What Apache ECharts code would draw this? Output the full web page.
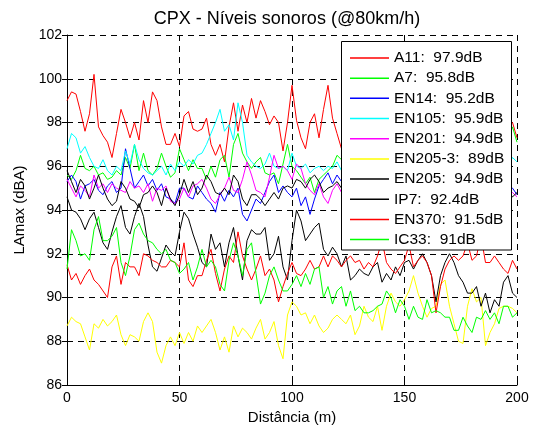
<!DOCTYPE html>
<html>
<head>
<meta charset="utf-8">
<script src="https://cdn.jsdelivr.net/npm/echarts@6/dist/echarts.min.js"></script>
<style>
  html, body { margin: 0; padding: 0; background: #fff; }
  #chart { width: 538px; height: 432px; }
</style>
</head>
<body>
<div id="chart"></div>
<script>
// Distance (m), sampled every 2 m
const distance = [
  0, 2, 4, 6, 8, 10, 12, 14, 16, 18,
  20, 22, 24, 26, 28, 30, 32, 34, 36, 38,
  40, 42, 44, 46, 48, 50, 52, 54, 56, 58,
  60, 62, 64, 66, 68, 70, 72, 74, 76, 78,
  80, 82, 84, 86, 88, 90, 92, 94, 96, 98,
  100, 102, 104, 106, 108, 110, 112, 114, 116, 118,
  120, 122, 124, 126, 128, 130, 132, 134, 136, 138,
  140, 142, 144, 146, 148, 150, 152, 154, 156, 158,
  160, 162, 164, 166, 168, 170, 172, 174, 176, 178,
  180, 182, 184, 186, 188, 190, 192, 194, 196, 198,
  200
];

const seriesNames = ['A11', 'A7', 'EN14', 'EN105', 'EN201', 'EN205-3', 'EN205', 'IP7', 'EN370', 'IC33'];
const legendLabels = ['A11:  97.9dB', 'A7:  95.8dB', 'EN14:  95.2dB', 'EN105:  95.9dB', 'EN201:  94.9dB',
  'EN205-3:  89dB', 'EN205:  94.9dB', 'IP7:  92.4dB', 'EN370:  91.5dB', 'IC33:  91dB'];
const seriesColors = ['#ff0000', '#00ff00', '#0000ff', '#00ffff', '#ff00ff', '#ffff00', '#000000', '#000000', '#ff0000', '#00ff00'];

const yTicks = [86, 88, 90, 92, 94, 96, 98, 100, 102];
const xTicks = [0, 50, 100, 150, 200];

const A11 = [
  99.0, 99.4, 99.3, 98.5, 97.6, 98.4, 100.2, 97.8, 97.4, 97.1,
  96.4, 97.5, 98.6, 98.0, 97.3, 98.0, 97.2, 99.0, 98.0, 99.4,
  99.0, 97.8, 97.0, 97.0, 97.5, 96.9, 98.3, 98.5, 97.7, 97.6,
  97.7, 98.2, 97.0, 96.5, 97.0, 96.2, 97.8, 98.9, 97.6, 98.8,
  98.0, 99.1, 98.2, 99.0, 98.5, 97.9, 98.3, 98.0, 96.7, 98.0,
  99.7, 98.1, 97.3, 96.8, 98.0, 98.4, 97.3, 98.6, 99.7, 98.2,
  97.5, 96.8, 97.6, 98.2, 98.9, 97.8, 97.3, 98.0, 98.6, 97.9,
  97.1, 97.7, 98.4, 99.0, 98.2, 97.5, 97.9, 98.5, 97.6, 97.0,
  97.8, 98.3, 98.9, 98.0, 97.4, 97.8, 98.6, 98.1, 97.2, 97.6,
  98.3, 98.8, 97.9, 97.3, 97.8, 98.4, 97.7, 97.2, 97.8, 98.0,
  97.3
];
const A7 = [
  95.6, 95.4, 95.8, 96.5, 95.9, 95.8, 96.0, 95.6, 95.7, 95.4,
  95.5, 95.8, 95.6, 96.4, 95.9, 97.0, 95.8, 96.6, 95.8, 95.6,
  95.9, 96.6, 96.0, 95.5, 95.7, 96.8, 96.3, 95.8, 96.3, 95.9,
  95.9, 95.4, 96.0, 95.5, 96.3, 96.5, 95.5, 97.0, 97.5, 96.6,
  96.2, 95.9, 96.2, 96.4, 95.7, 95.6, 95.7, 95.2, 96.1, 97.0,
  96.0, 95.8, 95.5, 95.2, 95.5, 94.8, 95.4, 95.6, 95.8, 96.0,
  96.5, 96.3, 95.9, 95.4, 95.7, 96.1, 95.5, 95.2, 95.8, 96.2,
  95.6, 95.3, 95.7, 96.0, 95.4, 95.1, 95.6, 95.9, 95.3, 95.5,
  96.0, 95.6, 95.2, 95.4, 95.8, 96.1, 95.5, 95.3, 95.7, 95.9,
  95.4, 95.6, 96.2, 95.8, 95.5, 96.0, 96.4, 96.8, 97.2, 97.8,
  97.1
];
const EN14 = [
  95.3, 95.6, 95.3, 94.5, 95.1, 95.2, 95.4, 94.9, 94.7, 95.1,
  95.3, 94.8, 95.0, 96.8, 95.9, 95.0, 95.3, 95.6, 95.1, 95.4,
  94.9, 95.2, 94.6, 94.5, 94.3, 95.0, 95.0, 94.6, 94.5, 95.1,
  94.8, 94.5, 94.3, 93.9, 94.8, 94.4, 94.9, 94.6, 95.0, 93.8,
  93.5, 94.0, 94.5, 94.3, 94.8, 95.3, 95.6, 94.8, 95.1, 94.8,
  94.6, 95.0, 94.2, 94.6, 93.8, 94.5, 95.1, 95.4, 95.7, 95.2,
  95.6, 95.3, 95.5, 95.9, 95.2, 95.7, 96.0, 95.4, 95.8, 95.3,
  95.6, 96.1, 95.5, 95.2, 95.8, 95.9, 95.4, 95.7, 96.0, 95.5,
  95.2, 95.6, 95.9, 95.4, 95.7, 95.3, 95.8, 96.0, 95.5, 95.1,
  95.4, 95.7, 95.2, 95.6, 95.0, 95.3, 95.5, 94.9, 95.2, 95.0,
  94.7
];
const EN105 = [
  96.8, 97.5, 97.3, 96.6, 96.9, 96.4, 96.0, 95.9, 96.3, 95.8,
  95.6, 96.0, 95.8, 96.7, 96.1, 97.0, 96.3, 95.9, 95.7, 95.6,
  95.8, 96.0, 95.6, 96.1, 95.8, 96.2, 96.0, 96.3, 96.1, 96.5,
  96.6, 97.0, 97.5, 98.0, 98.6, 97.6, 97.9, 97.2, 98.9, 98.0,
  96.5, 96.2, 96.0, 95.9, 96.1, 96.6, 96.0, 95.9, 96.0, 95.8,
  96.6, 96.0, 95.9, 96.1, 95.7, 95.9, 96.0, 95.8, 96.0, 95.9,
  96.2, 95.8, 95.4, 95.7, 95.2, 95.5, 95.9, 95.3, 95.6, 95.1,
  95.4, 95.8, 95.2, 95.5, 95.0, 95.6, 95.3, 95.7, 95.1, 95.4,
  95.8, 95.2, 95.5, 95.0, 95.4, 95.7, 95.3, 95.6, 95.2, 95.5,
  95.9, 95.4, 95.6, 95.2, 95.5, 95.8, 95.4, 95.7, 96.0, 96.4,
  96.2
];
const EN201 = [
  95.4, 95.0, 94.6, 95.1, 94.9, 94.6, 95.6, 95.0, 95.2, 94.8,
  95.2, 95.0, 94.9, 94.8, 95.3, 95.0, 95.1, 94.8, 95.2, 94.4,
  95.0, 94.9, 95.1, 94.4, 94.3, 94.5, 95.0, 94.6, 95.1, 95.2,
  95.4, 95.0, 94.5, 94.3, 94.7, 95.0, 95.5, 94.9, 94.8, 95.4,
  96.2, 95.6, 94.9, 94.8, 94.6, 95.5, 96.5, 95.9, 96.0, 95.8,
  95.4, 96.1, 95.9, 95.2, 94.9, 94.7, 95.2, 94.6, 94.3, 94.9,
  95.2, 94.8, 94.5, 94.9, 95.1, 94.6, 94.4, 94.8, 95.0, 94.7,
  94.5, 94.9, 95.2, 94.7, 94.4, 94.8, 95.1, 94.6, 94.3, 94.7,
  95.0, 94.6, 94.9, 95.2, 94.5, 94.8, 95.0, 94.4, 94.7, 94.9,
  94.6, 95.1, 94.8, 94.5, 94.9, 95.2, 94.7, 94.4, 94.8, 94.8,
  94.6
];
const EN205_3 = [
  88.7, 89.1, 88.9, 88.8, 88.2, 87.6, 88.8, 88.6, 89.0, 88.7,
  88.9, 89.2, 88.3, 87.8, 88.3, 88.2, 88.0, 88.9, 89.3, 88.9,
  87.5, 87.0, 87.8, 88.2, 87.8, 88.4, 87.9, 88.4, 88.0, 88.7,
  88.4, 88.7, 89.0, 88.4, 87.6, 88.2, 87.5, 88.7, 88.2, 88.6,
  88.4, 88.1, 88.6, 89.0, 88.1, 88.4, 88.9, 87.8, 87.2, 89.2,
  89.8, 89.6, 89.2, 89.3, 88.8, 89.2, 88.7, 88.4, 88.6, 89.0,
  89.2, 89.0, 88.8, 89.2, 88.3, 88.7, 89.6, 89.1, 88.9, 89.6,
  88.5, 89.6, 90.2, 89.8, 89.6, 89.9, 90.3, 91.0, 90.2, 89.6,
  89.1, 89.5, 89.6, 90.6, 90.8, 89.6, 88.8, 88.0, 87.9, 89.6,
  90.4, 89.8, 90.0, 87.8, 88.4, 88.8, 89.5, 89.6, 89.6, 89.5,
  89.3
];
const EN205 = [
  95.8, 95.3, 94.8, 95.4, 95.1, 94.5, 95.0, 95.6, 95.0, 94.5,
  94.2, 94.4, 95.3, 95.0, 94.5, 94.4, 94.1, 94.7, 94.8, 95.1,
  94.8, 94.2, 95.0, 94.5, 94.2, 94.7, 95.4, 94.8, 95.3, 94.7,
  95.0, 95.6, 95.3, 94.8, 94.7, 95.0, 94.7, 95.6, 95.3, 94.5,
  94.2, 94.7, 94.7, 94.5, 94.2, 94.5, 94.8, 94.5, 95.0, 95.1,
  95.0, 95.4, 95.3, 95.0, 95.4, 95.6, 95.3, 94.8, 95.0, 95.1,
  95.3, 95.0, 94.7, 95.2, 94.9, 94.6, 95.1, 94.8, 94.5, 95.0,
  95.3, 94.9, 94.6, 95.0, 94.7, 95.2, 94.8, 94.5, 94.9, 95.1,
  94.8, 94.6, 95.0, 94.7, 95.2, 94.9, 94.6, 95.0, 94.8, 94.5,
  94.9, 95.2, 94.7, 94.5, 94.9, 95.1, 94.8, 94.6, 94.9, 94.6,
  94.8
];
const IP7 = [
  94.6, 94.0, 93.9, 93.6, 93.1, 93.6, 93.9, 93.2, 92.5, 92.2,
  93.0, 93.7, 94.2, 93.2, 92.9, 93.7, 94.3, 93.7, 92.4, 91.4,
  91.2, 91.8, 92.4, 92.1, 91.9, 93.0, 93.9, 93.6, 92.9, 92.3,
  91.6, 91.4, 92.9, 92.2, 92.5, 91.4, 92.5, 93.2, 91.9, 90.8,
  92.6, 93.1, 92.9, 92.9, 93.2, 91.7, 92.0, 92.8, 91.4, 90.8,
  92.6, 94.0, 93.5, 92.6, 92.9, 93.2, 93.4, 92.2, 91.9, 92.3,
  92.0, 91.4, 91.9, 90.8, 91.0, 91.3, 91.1, 91.0, 91.4, 91.6,
  90.7, 91.1, 90.8, 91.4, 91.0, 91.6, 91.7, 91.3, 91.7, 92.0,
  91.6, 91.0, 89.8, 91.0, 91.6, 92.0, 91.6, 91.0, 90.7, 90.2,
  90.2, 90.5, 89.6, 90.2, 89.3, 89.9, 89.6, 90.7, 91.0, 90.2,
  90.0
];
const EN370 = [
  91.5, 90.8, 91.1, 90.6, 91.0, 91.3, 90.8, 90.6, 90.3, 90.0,
  91.4, 91.9, 90.6, 91.6, 91.4, 91.4, 91.0, 92.0, 91.9, 91.7,
  91.6, 91.4, 91.4, 91.7, 91.6, 91.4, 92.5, 90.8, 90.5, 91.0,
  91.0, 91.7, 92.2, 91.1, 90.3, 91.3, 91.9, 91.6, 93.0, 91.9,
  91.3, 90.8, 91.3, 91.9, 91.0, 91.3, 90.8, 89.8, 90.5, 91.1,
  91.6, 91.1, 91.0, 91.3, 91.7, 91.3, 91.4, 91.9, 91.4, 91.9,
  91.7, 91.4, 91.7, 91.9, 91.6, 91.7, 91.3, 91.6, 91.4, 91.9,
  92.6, 91.6, 91.3, 91.1, 91.4, 91.7, 92.4, 91.4, 91.7, 91.9,
  91.6, 91.0, 89.3, 90.5, 91.3, 91.7, 91.9, 91.7, 91.9, 92.5,
  91.7, 91.9, 92.8, 91.6, 91.6, 91.9, 91.6, 91.3, 91.1, 91.7,
  91.3
];
const IC33 = [
  91.3, 93.1, 92.6, 91.9, 92.0, 91.7, 93.1, 93.7, 92.6, 92.6,
  92.8, 93.2, 91.6, 91.0, 91.9, 93.1, 93.4, 92.9, 92.6, 92.5,
  92.2, 92.0, 92.2, 91.7, 91.6, 91.1, 91.3, 91.6, 90.8, 91.4,
  92.2, 91.4, 91.7, 91.4, 90.6, 90.3, 91.7, 92.5, 91.9, 91.0,
  92.2, 92.5, 91.1, 89.7, 90.2, 91.0, 91.4, 90.8, 90.3, 90.3,
  90.6, 91.0, 90.5, 91.1, 90.6, 91.3, 91.4, 90.0, 90.5, 89.7,
  90.3, 90.5, 89.6, 90.3, 89.4, 89.6, 89.3, 89.3, 89.4, 89.6,
  89.7, 90.3, 90.0, 89.3, 89.9, 89.6, 89.0, 89.6, 89.1, 89.0,
  89.9, 89.3, 89.4, 89.3, 89.1, 89.1, 88.5, 88.5, 89.1, 88.7,
  88.4, 89.1, 89.0, 89.4, 89.0, 89.3, 88.8, 89.6, 89.6, 89.1,
  89.3
];

const seriesValues = [A11, A7, EN14, EN105, EN201, EN205_3, EN205, IP7, EN370, IC33];

const FONT = 'Liberation Sans, Arial, Helvetica, sans-serif';

const chart = echarts.init(document.getElementById('chart'), null, { renderer: 'canvas' });

const series = seriesValues.map((vals, k) => ({
  name: legendLabels[k],
  type: 'line',
  xAxisIndex: 0,
  yAxisIndex: 0,
  symbol: 'none',
  showSymbol: false,
  smooth: false,
  z: 2,
  color: seriesColors[k],
  itemStyle: { color: seriesColors[k] },
  lineStyle: { width: 1, color: seriesColors[k] },
  data: distance.map((d, i) => [d, vals[i]])
}));

const legendData = legendLabels.map((name, k) => ({
  name: name,
  icon: 'rect',
  itemStyle: { color: seriesColors[k], borderWidth: 0, opacity: 1 }
}));

const axisCommon = {
  axisLine: { show: true, lineStyle: { color: '#000', width: 1 } },
  axisTick: { show: true, inside: true, length: 5, lineStyle: { color: '#000' } },
  axisLabel: { color: '#000', fontSize: 14, fontFamily: FONT },
  nameTextStyle: { color: '#000', fontSize: 15, fontFamily: FONT }
};

const option = {
  animation: false,
  backgroundColor: '#ffffff',
  title: {
    text: 'CPX - Níveis sonoros (@80km/h)',
    left: 282,
    top: 5,
    textAlign: 'center',
    textStyle: { color: '#000', fontSize: 18, fontWeight: 'normal', fontFamily: FONT }
  },
  grid: { left: 67, right: 21, top: 35, bottom: 47, containLabel: false },
  xAxis: [
    Object.assign({}, axisCommon, {
      type: 'value', position: 'bottom', min: xTicks[0], max: xTicks[xTicks.length - 1], interval: 50,
      name: 'Distância (m)', nameLocation: 'middle', nameGap: 22,
      axisLabel: Object.assign({}, axisCommon.axisLabel, { margin: 6 }),
      splitLine: { show: true, lineStyle: { color: '#000', type: [6, 5], width: 1 } }
    }),
    {
      type: 'value', position: 'top', min: xTicks[0], max: xTicks[xTicks.length - 1], interval: 50,
      axisLine: { show: false },
      axisTick: { show: true, inside: true, length: 5, lineStyle: { color: '#000' } },
      axisLabel: { show: false }, splitLine: { show: false }
    }
  ],
  yAxis: [
    Object.assign({}, axisCommon, {
      type: 'value', position: 'left', min: yTicks[0], max: yTicks[yTicks.length - 1], interval: 2,
      name: 'LAmax (dBA)', nameLocation: 'middle', nameGap: 37,
      axisLabel: Object.assign({}, axisCommon.axisLabel, { margin: 5 }),
      splitLine: { show: true, lineStyle: { color: '#000', type: [6, 5], width: 1 } }
    }),
    {
      type: 'value', position: 'right', min: yTicks[0], max: yTicks[yTicks.length - 1], interval: 2,
      axisLine: { show: false },
      axisTick: { show: true, inside: true, length: 5, lineStyle: { color: '#000' } },
      axisLabel: { show: false }, splitLine: { show: false }
    }
  ],
  graphic: [
    {
      type: 'rect', z: 3,
      shape: { x: 341.5, y: 41.5, width: 170, height: 208.5 },
      style: { fill: '#ffffff', stroke: '#000000', lineWidth: 1 }
    }
  ],
  legend: {
    orient: 'vertical',
    left: 350,
    top: 50,
    padding: 0,
    z: 5,
    icon: 'rect',
    itemWidth: 39,
    itemHeight: 1.5,
    itemGap: 4.18,
    selectedMode: false,
    inactiveColor: '#000',
    data: legendData,
    itemStyle: { borderWidth: 0 },
    textStyle: { color: '#000', fontSize: 15.5, lineHeight: 16, fontFamily: FONT }
  },
  series: series
};

chart.setOption(option);
</script>
</body>
</html>
